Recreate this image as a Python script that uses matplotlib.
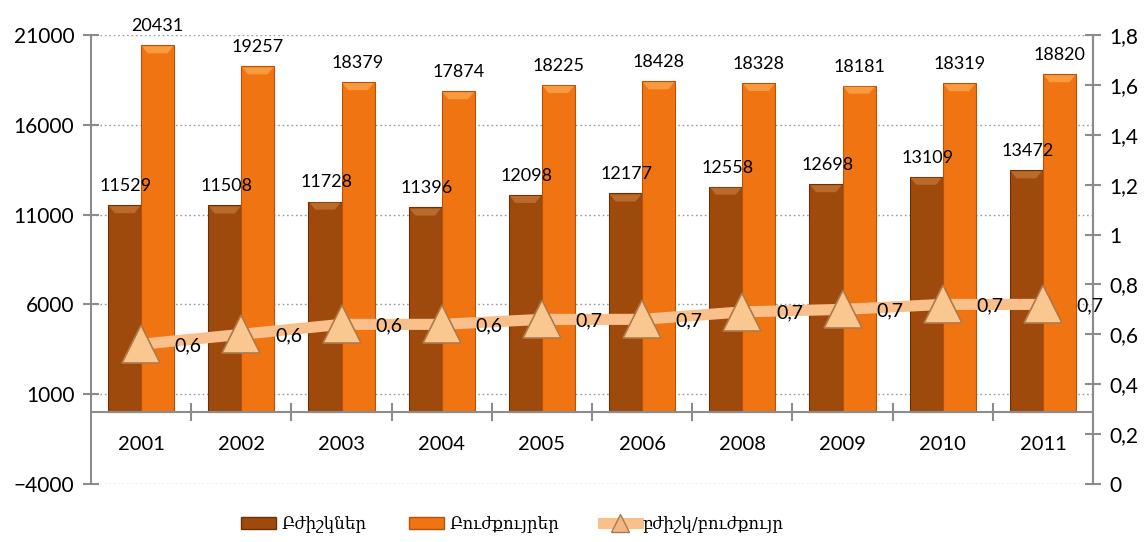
import matplotlib
matplotlib.use("Agg")
import matplotlib.pyplot as plt
from matplotlib.ticker import FixedLocator, FuncFormatter
from matplotlib.lines import Line2D
from matplotlib.patches import Patch
import numpy as np

years = ["2001", "2002", "2003", "2004", "2005", "2006", "2008", "2009", "2010", "2011"]
doctors = [11529, 11508, 11728, 11396, 12098, 12177, 12558, 12698, 13109, 13472]
nurses = [20431, 19257, 18379, 17874, 18225, 18428, 18328, 18181, 18319, 18820]
ratio = [0.56, 0.60, 0.64, 0.64, 0.66, 0.66, 0.69, 0.70, 0.72, 0.72]
ratio_labels = ["0,6", "0,6", "0,6", "0,6", "0,7", "0,7", "0,7", "0,7", "0,7", "0,7"]
legend_names = ["Բժիշկներ", "Բուժքույրեր", "բժիշկ/բուժքույր"]

plt.rcParams['font.family'] = ['Lato', 'DejaVu Sans']

fig = plt.figure(figsize=(11.46, 5.42), dpi=100)
ax = fig.add_axes([91/1146, 1-484/542, (1093-91)/1146, (484-35)/542])
ax2 = ax.twinx()

x = np.arange(len(years))
w = 0.33
brown = "#9E4A0C"
brown_edge = "#6A3008"
orange = "#F07412"
orange_edge = "#B85208"

b1 = ax.bar(x - w/2, doctors, w, color=brown, edgecolor=brown_edge, linewidth=0.8, zorder=3)
b2 = ax.bar(x + w/2, nurses, w, color=orange, edgecolor=orange_edge, linewidth=0.8, zorder=3)

# bevel highlight on bar tops (derived from each bar's own geometry)
for bars, hl in ((b1, "#BA6A2A"), (b2, "#F89A40")):
    for r in bars:
        bx0, bw, bh = r.get_x(), r.get_width(), r.get_height()
        cap = 450
        ax.fill([bx0 + bw * 0.03, bx0 + bw * 0.97, bx0 + bw * 0.8, bx0 + bw * 0.2],
                [bh - 60, bh - 60, bh - cap, bh - cap], color=hl, zorder=3.5, linewidth=0)

for xi, v in zip(x, doctors):
    ax.annotate(str(v), (xi - w/2, v), xytext=(1, 8), textcoords="offset points",
                ha="center", va="bottom", fontsize=13, color="black", zorder=5)
for xi, v in zip(x, nurses):
    ax.annotate(str(v), (xi + w/2, v), xytext=(0, 8), textcoords="offset points",
                ha="center", va="bottom", fontsize=13, color="black", zorder=5)

ax.set_xlim(-0.5, len(years) - 0.5)
ax.set_ylim(-4000, 21000)
ax.yaxis.set_major_locator(FixedLocator([-4000, 1000, 6000, 11000, 16000, 21000]))
ax.grid(axis="y", linestyle=(0, (1.2, 2)), color="#9a9a9a", linewidth=1.0, zorder=0)
ax.set_axisbelow(True)

for s in ["top", "bottom"]:
    ax.spines[s].set_visible(False)
ax.spines["left"].set_color("#8c8c8c")
ax.spines["left"].set_linewidth(1.5)
ax.spines["right"].set_color("#8c8c8c")
ax.spines["right"].set_linewidth(1.5)
ax2.spines["right"].set_color("#8c8c8c")
ax2.spines["right"].set_linewidth(1.5)
for s in ["top", "bottom", "left"]:
    ax2.spines[s].set_visible(False)

# zero line (category axis)
ax.axhline(0, color="#8c8c8c", linewidth=1.5, zorder=4)
boundaries = np.arange(0.5, len(years) - 0.5, 1.0)
for bx in boundaries:
    ax.plot([bx, bx], [-450, 450], color="#8c8c8c", linewidth=1.5, zorder=4, clip_on=False)

ax.set_xticks([])
for xi, yr in zip(x, years):
    ax.text(xi, -1800, yr, ha="center", va="center", fontsize=14.5, color="black")

ax.tick_params(axis="y", direction="inout", length=12, width=1.5, color="#8c8c8c",
               labelsize=15, pad=6)
ax.tick_params(axis="x", length=0)

ax2.set_ylim(0, 1.8)
ax2.yaxis.set_major_locator(FixedLocator(np.round(np.arange(0, 1.81, 0.2), 1)))
ax2.yaxis.set_major_formatter(FuncFormatter(
    lambda v, p: ("%g" % round(v, 1)).replace(".", ",")))
ax2.tick_params(axis="y", direction="inout", length=12, width=1.5, color="#8c8c8c",
                labelsize=15, pad=6)

line_col = "#F9C08C"
ax2.plot(x, ratio, color=line_col, linewidth=8, solid_capstyle="round", zorder=6)
ax2.plot(x, ratio, linestyle="none", marker="^", markersize=27, markerfacecolor="#F9C890",
         markeredgecolor="#B07848", markeredgewidth=1.2, zorder=7)
for xi, v, lab in zip(x, ratio, ratio_labels):
    ax2.annotate(lab, (xi, v), xytext=(34, -1), textcoords="offset points",
                 ha="center", va="center", fontsize=14, color="black", zorder=8)

ax.set_zorder(ax2.get_zorder() - 1)
ax.patch.set_visible(True)
ax2.patch.set_visible(False)

handles = [
    Patch(facecolor=brown, edgecolor=brown_edge),
    Patch(facecolor=orange, edgecolor=orange_edge),
    Line2D([0], [0], color=line_col, linewidth=8, marker="^", markersize=13,
           markerfacecolor="#F0B888", markeredgecolor="#B07848"),
]
fig.legend(handles, legend_names, loc="center", bbox_to_anchor=(0.447, 0.033), ncol=3,
           frameon=False, prop={"family": ["DejaVu Serif", "DejaVu Sans"], "size": 12},
           handlelength=2.1, handleheight=0.75, columnspacing=2.6, handletextpad=0.3)

fig.savefig("out.png", dpi=100)
